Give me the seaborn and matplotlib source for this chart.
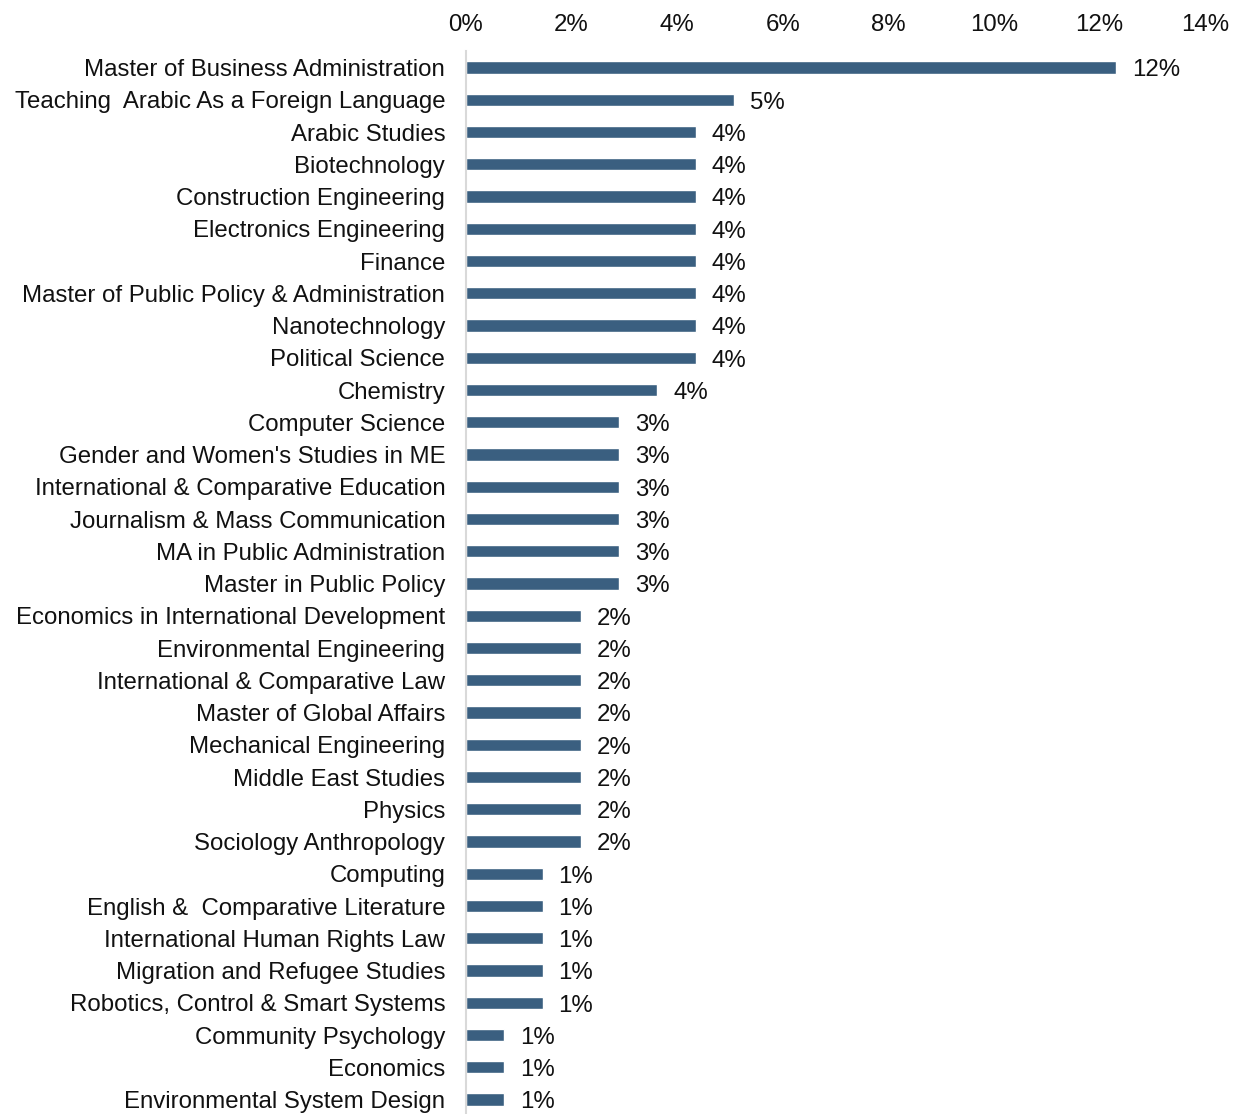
import seaborn as sns
import matplotlib.pyplot as plt
import pandas as pd

programs = [
    "Master of Business Administration",
    "Teaching  Arabic As a Foreign Language",
    "Arabic Studies",
    "Biotechnology",
    "Construction Engineering",
    "Electronics Engineering",
    "Finance",
    "Master of Public Policy & Administration",
    "Nanotechnology",
    "Political Science",
    "Chemistry",
    "Computer Science",
    "Gender and Women's Studies in ME",
    "International & Comparative Education",
    "Journalism & Mass Communication",
    "MA in Public Administration",
    "Master in Public Policy",
    "Economics in International Development",
    "Environmental Engineering",
    "International & Comparative Law",
    "Master of Global Affairs",
    "Mechanical Engineering",
    "Middle East Studies",
    "Physics",
    "Sociology Anthropology",
    "Computing",
    "English &  Comparative Literature",
    "International Human Rights Law",
    "Migration and Refugee Studies",
    "Robotics, Control & Smart Systems",
    "Community Psychology",
    "Economics",
    "Environmental System Design",
]
# share of students (%)
share = [12.32, 5.07, 4.35, 4.35, 4.35, 4.35, 4.35, 4.35, 4.35, 4.35,
         3.62, 2.90, 2.90, 2.90, 2.90, 2.90, 2.90,
         2.17, 2.17, 2.17, 2.17, 2.17, 2.17, 2.17, 2.17,
         1.45, 1.45, 1.45, 1.45, 1.45,
         0.72, 0.72, 0.72]
labels = ["12%", "5%", "4%", "4%", "4%", "4%", "4%", "4%", "4%", "4%",
          "4%", "3%", "3%", "3%", "3%", "3%", "3%",
          "2%", "2%", "2%", "2%", "2%", "2%", "2%", "2%",
          "1%", "1%", "1%", "1%", "1%", "1%", "1%", "1%"]
ticks = [0, 2, 4, 6, 8, 10, 12, 14]

df = pd.DataFrame({"program": programs, "share": share})

sns.set_style("white")
plt.rcParams["font.family"] = ["Liberation Sans", "DejaVu Sans"]

fig = plt.figure(figsize=(12.35, 11.14), dpi=100)
ax = fig.add_axes([0.3773, -0.0015, 0.5984, 0.9553])

sns.barplot(data=df, x="share", y="program", color="#3A5F80", width=0.38,
            saturation=1, ax=ax)
anns = ax.bar_label(ax.containers[0], labels=labels, padding=11.5, fontsize=17.3,
                    color="#111111")
for a in anns:
    x0, y0 = a.xyann
    a.xyann = (x0, y0 - 2)  # sit a touch below bar centre like the original

ax.set_xlim(0, 14)
ax.set_ylim(len(programs) - 0.5, -0.5)
ax.set_xticks(ticks)
ax.set_xticklabels([f"{t}%" for t in ticks])
ax.xaxis.tick_top()
ax.tick_params(axis="x", length=0, pad=11, labelsize=17.3, labelcolor="#111111")
ax.tick_params(axis="y", length=0, pad=15, labelsize=17.3, labelcolor="#111111")
ax.set_xlabel("")
ax.set_ylabel("")

for s in ["top", "right", "bottom"]:
    ax.spines[s].set_visible(False)
ax.spines["left"].set_color("#d9d9d9")
ax.spines["left"].set_linewidth(1.5)

fig.savefig("out.png", dpi=100)
